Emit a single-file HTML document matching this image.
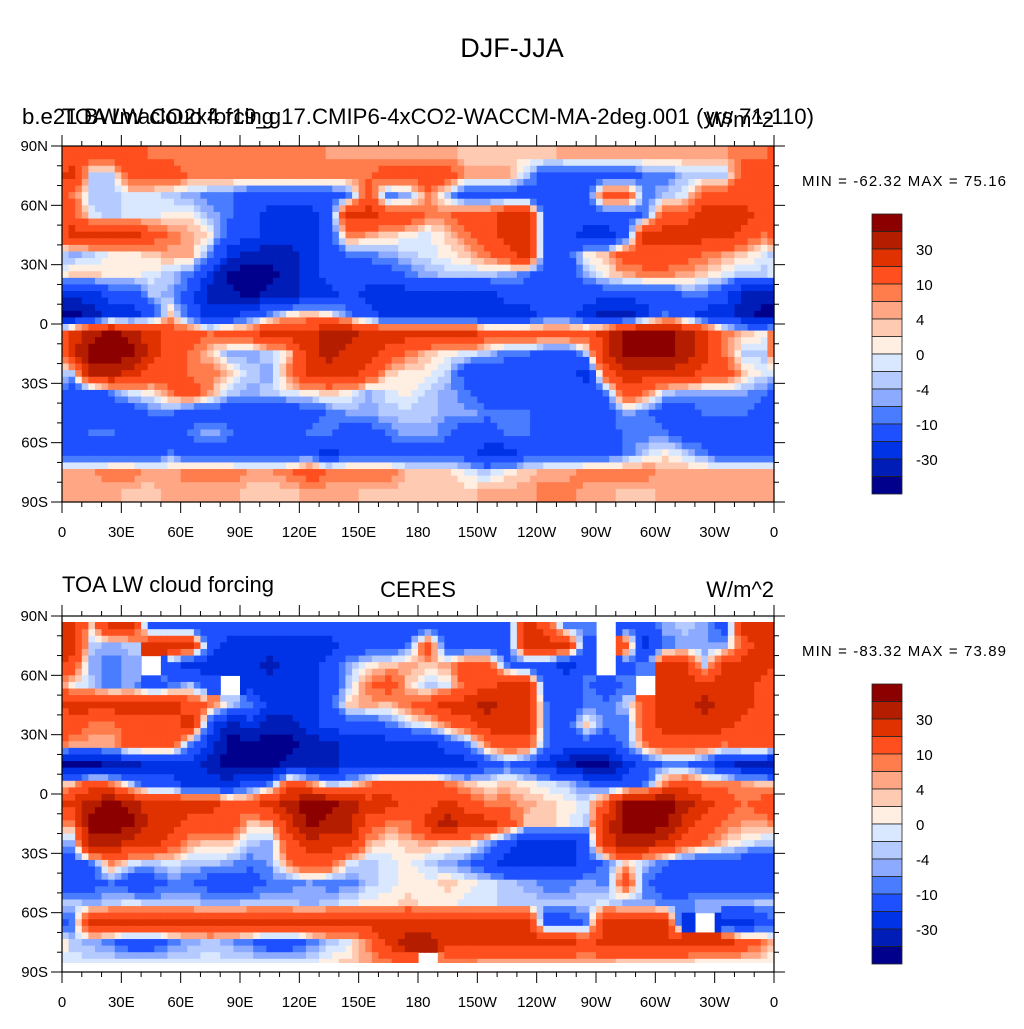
<!DOCTYPE html>
<html><head><meta charset="utf-8">
<style>
body{margin:0;background:#fff;width:1024px;height:1024px;overflow:hidden}
svg text{font-family:"Liberation Sans",Arial,sans-serif;fill:#000}
</style></head>
<body>
<svg id="fig" xmlns="http://www.w3.org/2000/svg" width="1024" height="1024" viewBox="0 0 1024 1024">
<rect width="1024" height="1024" fill="#fff"/>
<text x="512" y="57" font-size="27" text-anchor="middle">DJF-JJA</text>
<text x="22" y="124" font-size="22" textLength="792" lengthAdjust="spacingAndGlyphs">b.e21.BWmaCO2x4.f19_g17.CMIP6-4xCO2-WACCM-MA-2deg.001 (yrs 71-110)</text>
<text x="62" y="124" font-size="22">TOA LW cloud forcing</text>
<text x="774" y="127" font-size="22" text-anchor="end">W/m^2</text>
<text x="802" y="186" font-size="15" textLength="204" lengthAdjust="spacing">MIN = -62.32 MAX = 75.16</text>
<text x="62" y="592" font-size="22">TOA LW cloud forcing</text>
<text x="418" y="597" font-size="22" text-anchor="middle">CERES</text>
<text x="774" y="597" font-size="22" text-anchor="end">W/m^2</text>
<text x="802" y="656" font-size="15" textLength="204" lengthAdjust="spacing">MIN = -83.32 MAX = 73.89</text>
<g id="maps"></g>
</svg>
<script>
const levels=[40,30,20,10,6,4,2,0,-2,-4,-6,-10,-20,-30,-40];
const colors=["#8c0000","#b51d00","#e03200","#ff4f1f","#ff7c4c","#ffa684","#ffcab2","#ffefe2","#d9e8ff","#b5cbff","#8caaff","#4a7cff","#1f50ff","#0033e6","#001db8","#00008c"];
const cbLabels=["30","10","4","0","-4","-10","-30"];
const lonLabels=["0","30E","60E","90E","120E","150E","180","150W","120W","90W","60W","30W","0"];
const latLabels=["90N","60N","30N","0","30S","60S","90S"];
const N=null;
const modelField=[
[15,15,15,15,8,8,8,8,8,8,8,8,8,5,5,5,5,5,5,5,3,3,3,3,3,5,5,5,5,5,5,5,5,5,8,8],
[25,-3,-3,15,15,15,8,8,8,8,8,8,8,8,8,8,15,15,15,15,5,5,5,-3,-15,-15,-15,-15,-15,-8,-8,-3,-3,-3,15,15],
[8,-3,-3,-1,-1,-3,-5,-8,-8,-15,-15,-15,-15,-15,-8,15,-8,-5,8,-3,-15,-15,-15,-15,-15,-15,-15,15,15,-8,-3,-1,15,15,15,15],
[15,-1,-3,-1,-1,1,1,-5,-8,-15,-25,-25,-25,-15,25,25,15,15,8,8,15,15,25,25,-15,-15,-15,-15,-15,-8,15,15,25,25,25,15],
[25,25,25,25,15,8,5,1,-15,-15,-25,-25,-25,-15,8,5,3,1,-1,3,8,15,25,25,-15,-15,-25,-25,-15,25,25,25,25,25,15,8],
[-5,-3,1,1,3,5,5,-8,-25,-35,-35,-35,-25,-15,-8,-8,-5,-3,-1,1,3,8,15,25,-15,-15,1,3,15,15,15,15,8,5,3,-1],
[3,3,1,1,-1,-3,-8,-25,-45,-45,-45,-35,-25,-15,-15,-15,-15,-8,-5,-3,-3,-3,-5,-8,-15,-15,-5,1,5,8,8,5,3,-1,-3,-3],
[-25,-25,-15,-15,-3,-5,-15,-35,-35,-45,-35,-35,-25,-25,-15,-25,-25,-25,-25,-25,-25,-25,-15,-15,-15,-15,-15,-15,-15,-15,-15,-8,-8,-15,-35,-35],
[-45,-35,-25,-25,-15,3,-15,-25,-25,-15,-8,1,3,1,-8,-15,-25,-25,-25,-25,-25,-25,-25,-25,-15,-15,-25,-35,-35,-25,-8,-15,-25,-25,-35,-45],
[25,35,45,35,25,15,15,8,15,15,25,25,25,35,35,25,25,25,25,25,25,15,15,15,15,15,15,25,45,45,45,35,25,8,3,1],
[25,45,45,45,25,15,8,3,-5,-5,-3,3,25,35,25,25,15,8,3,1,-1,-3,-8,-8,-15,-15,-3,25,45,45,45,35,25,8,-3,-3],
[-3,35,35,25,15,15,8,8,3,-3,-5,8,25,25,25,15,3,1,1,-3,-15,-15,-15,-15,-15,-15,-25,15,25,25,25,25,15,15,3,-1],
[-15,-15,-8,-1,1,8,15,5,-3,-5,-3,-1,1,3,1,-5,-1,1,-3,-5,-8,-15,-15,-15,-15,-15,-15,-8,15,8,-3,-5,-5,-5,-5,-8],
[-15,-15,-15,-15,-8,-8,-15,-15,-15,-15,-15,-15,-15,-8,-5,-5,-3,-3,-3,-5,-5,-8,-8,-8,-15,-15,-15,-15,-5,-8,-15,-15,-8,-8,-8,-15],
[-15,-8,-8,-15,-15,-15,-8,-5,-8,-15,-15,-15,-8,-8,-15,-15,-8,-5,-5,-8,-15,-15,-8,-8,-15,-15,-15,-15,-8,-8,-8,-15,-15,-15,-15,-15],
[-15,-15,-15,-15,-15,-8,-15,-15,-15,-15,-15,-15,-15,-25,-15,-15,-15,-15,-15,-15,-15,-25,-25,-15,-15,-15,-15,-15,-8,-3,1,-3,-8,-15,-15,-15],
[5,5,8,8,5,5,8,8,8,5,5,8,15,8,8,8,8,3,3,3,-1,-3,1,3,5,5,8,8,8,8,5,5,5,5,5,5],
[5,5,5,3,3,5,5,5,5,3,3,3,5,5,5,3,3,3,3,3,3,5,5,5,8,8,5,5,3,3,5,5,5,5,5,5]];
const ceresField=[
[25,3,25,25,-15,-15,-15,-15,-15,-15,-15,-15,-15,-15,-15,-15,-15,-15,-15,-15,-15,-15,-15,25,15,-8,-8,N,-15,-15,-5,-3,-5,-15,25,25],
[25,-3,-5,-3,25,25,25,-15,-25,-25,-25,-25,-25,-25,-15,-15,-15,-8,15,-15,-15,-15,-15,25,25,25,-15,N,15,-25,-8,-5,-5,-5,15,25],
[15,-5,-8,-5,N,-15,-25,-25,-25,-25,-35,-25,-25,-15,-5,1,3,5,3,5,15,15,-8,-15,-15,-25,-15,N,-15,-8,25,25,-3,25,25,25],
[1,-3,-8,-5,-15,-8,-3,-15,N,-25,-25,-25,-25,-15,-3,8,15,3,-3,-1,15,15,25,25,-15,-15,-8,-15,-8,N,25,25,25,25,25,15],
[25,25,25,25,25,25,15,8,-3,-8,-25,-25,-25,-15,3,5,3,8,15,25,25,35,25,25,-8,-15,-8,-8,-3,15,25,25,35,25,25,15],
[15,8,8,15,15,15,25,-15,-35,-25,-35,-35,-25,-15,-15,-15,-8,-3,1,8,15,25,25,25,-8,-15,3,-8,-8,15,25,25,25,25,15,15],
[5,5,5,15,15,15,-8,-25,-45,-45,-45,-45,-35,-35,-25,-25,-25,-25,-25,-15,-8,8,15,15,-8,-15,-15,-15,-8,8,15,15,15,8,15,15],
[-45,-45,-35,-35,-25,-25,-25,-35,-45,-45,-45,-35,-35,-35,-25,-25,-25,-25,-25,-25,-25,-15,-8,-15,-25,-35,-45,-45,-25,-15,-8,-8,-15,-25,-35,-35],
[3,15,8,-3,-15,-15,-25,-25,-25,-15,-8,15,8,-3,-1,8,15,15,15,8,3,1,3,1,-1,-3,-8,-15,-15,-8,8,15,8,8,5,3],
[25,35,45,35,25,25,25,25,15,15,25,35,45,45,35,25,25,15,15,25,15,8,8,5,3,1,-1,15,45,45,45,35,25,15,8,15],
[8,45,45,45,25,25,15,15,15,3,5,25,45,35,35,15,8,8,25,35,25,25,15,3,3,1,-3,25,45,45,45,25,15,8,5,5],
[-5,35,35,25,25,15,5,3,3,-3,-5,15,25,25,25,5,1,3,5,3,3,-5,-15,-25,-25,-25,-15,25,35,35,25,15,8,3,-1,-3],
[-15,-8,8,-1,-3,-1,-3,-3,-5,-8,-5,8,15,15,-1,-3,-1,1,-3,-5,-8,-15,-25,-25,-25,-25,-15,-8,3,-3,-8,-15,-15,-15,-15,-15],
[-15,-15,-8,-15,-15,-8,-8,-15,-15,-15,-8,-8,-5,-8,-8,-3,-1,1,1,3,1,-1,-3,-5,-8,-8,-5,-8,15,-8,-15,-15,-15,-15,-15,-15],
[-3,-5,-3,-1,-3,-3,-3,-5,-5,-3,-3,-3,-5,-3,-1,1,1,3,1,1,-1,-1,-3,-3,-3,-3,-3,-1,-5,-5,-8,-8,-5,-5,-5,-3],
[-8,25,25,25,25,25,25,25,25,25,25,25,25,25,25,25,25,25,25,25,25,25,25,25,-15,-15,-8,25,25,25,25,-25,N,-25,-25,-15],
[-3,-5,-8,-15,-15,-8,-5,-3,-5,-8,-15,-15,-8,-3,-1,8,25,35,35,25,25,25,25,25,25,25,15,25,25,25,25,25,25,25,15,8],
[-1,-1,-1,-1,-1,-1,-1,-1,-1,-1,-1,-1,-1,1,3,5,8,15,N,8,8,5,5,5,5,5,5,5,3,3,3,3,1,1,1,1]];

const NS="http://www.w3.org/2000/svg";
const root=document.getElementById('maps');
function mk(tag,attrs,parent){const e=document.createElementNS(NS,tag);for(const k in attrs)e.setAttribute(k,attrs[k]);(parent||root).appendChild(e);return e;}
function colorOf(v){if(v===null||v===undefined)return null;let i=0;while(i<levels.length&&v<levels[i])i++;return colors[i];}

function drawMap(field,px,py,pw,ph,name,masks){
  const g=mk('g',{});
  
  
  const nr=field.length,nc=field[0].length;
  const xScale=lon=>px+lon/360*pw;
  const yScale=lat=>py+(90-lat)/180*ph;
  const S=3;
  const cw=(xScale(360/nc)-xScale(0))/S, chh=(yScale(90-180/nr)-yScale(90))/S;
  function val(r,c){r=Math.max(0,Math.min(nr-1,r));c=((c%nc)+nc)%nc;return field[r][c];}
  for(let r=0;r<nr;r++)for(let c=0;c<nc;c++){
    for(let sr=0;sr<S;sr++)for(let sc=0;sc<S;sc++){
      const fr=r+(sr+0.5)/S-0.5, fc=c+(sc+0.5)/S-0.5;
      const r0=Math.floor(fr),c0=Math.floor(fc),tr=fr-r0,tc=fc-c0;
      const vs=[val(r0,c0),val(r0,c0+1),val(r0+1,c0),val(r0+1,c0+1)];
      let v;
      if(field[r][c]===null)v=null;
      else if(vs.some(x=>x===null))v=field[r][c];
      else v=(vs[0]*(1-tc)+vs[1]*tc)*(1-tr)+(vs[2]*(1-tc)+vs[3]*tc)*tr;
      const col=colorOf(v); if(!col)continue;
      const lon=(c+sc/S)*360/nc, lat=90-(r+sr/S)*180/nr;
      const rc=mk('rect',{x:xScale(lon).toFixed(2),y:yScale(lat).toFixed(2),width:(cw+0.6).toFixed(2),height:(chh+0.6).toFixed(2),fill:col},g);
      
      
    }
  }
  if(masks){
    const m1=mk('rect',{x:px,y:py,width:pw,height:6,fill:'#fff'},g);
    
    
    const m2=mk('rect',{x:px,y:py+ph-9,width:pw,height:9,fill:'#fff'},g);
    
    
  }
  const fr=mk('rect',{x:px,y:py,width:pw,height:ph,fill:'none',stroke:'#000','stroke-width':1.2});
  
  
  for(let lon=0;lon<=360;lon+=10){
    const x=xScale(lon),major=lon%30===0,L=major?11:5;
    mk('line',{x1:x,y1:py,x2:x,y2:py-L,stroke:'#000','stroke-width':1});
    mk('line',{x1:x,y1:py+ph,x2:x,y2:py+ph+L,stroke:'#000','stroke-width':1});
  }
  lonLabels.forEach((t,i)=>{
    const tx=mk('text',{x:xScale(i*30),y:py+ph+35,'font-size':15,'text-anchor':'middle'});
    tx.textContent=t;
    
    
  });
  for(let lat=90;lat>=-90;lat-=10){
    const y=yScale(lat),major=lat%30===0,L=major?11:5;
    mk('line',{x1:px,y1:y,x2:px-L,y2:y,stroke:'#000','stroke-width':1});
    mk('line',{x1:px+pw,y1:y,x2:px+pw+L,y2:y,stroke:'#000','stroke-width':1});
  }
  latLabels.forEach((t,i)=>{
    const tx=mk('text',{x:px-14,y:yScale(90-i*30)+5,'font-size':15,'text-anchor':'end'});
    tx.textContent=t;
    
    
  });
}
function drawColorbar(x,y,w,h,name){
  const g=mk('g',{});
  
  
  const bh=h/colors.length;
  colors.forEach((c,i)=>{
    const r=mk('rect',{x:x,y:y+i*bh,width:w,height:bh,fill:c,stroke:'#222','stroke-width':0.8},g);
    
    
  });
  cbLabels.forEach((t,i)=>{
    const tx=mk('text',{x:x+w+14,y:y+(2*i+2)*bh+6,'font-size':15},g);
    tx.textContent=t;
    
    
  });
}
drawMap(modelField,62,146,712,356,'model',false);
drawMap(ceresField,62,616,712,356,'ceres',true);
drawColorbar(872,214,30,280,'top-colorbar');
drawColorbar(872,684,30,280,'bottom-colorbar');
</script>
</body></html>
